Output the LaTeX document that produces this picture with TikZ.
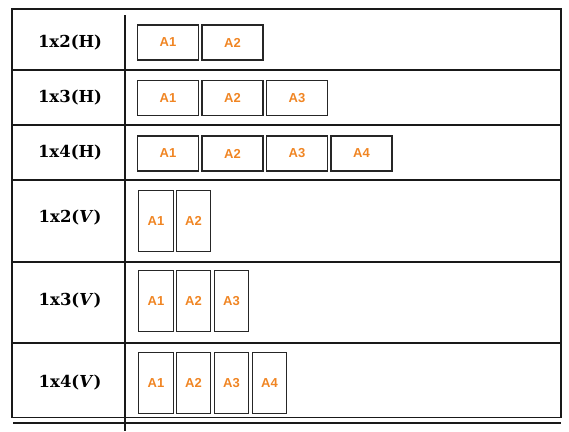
\documentclass[tikz,border=0pt]{standalone}
\usepackage{fontspec}
\setmainfont{DejaVu Serif}
\newfontfamily\cellfont{Liberation Sans}
\definecolor{cellorange}{RGB}{240,133,35}

\begin{document}
\begin{tikzpicture}[
    x=1pt, y=-1pt,
    grid/.style={draw=black!90, line width=1.4pt},
    tag/.style={font=\fontsize{16.5}{18}\selectfont\bfseries, inner sep=0pt},
    hcell/.style={draw=black!85, line width=1.3pt, minimum width=61pt, minimum height=35pt,
        inner sep=0pt, font=\cellfont\fontsize{13}{14}\selectfont\bfseries, text=cellorange},
    vcell/.style={draw=black!85, line width=1.3pt, minimum width=34.5pt, minimum height=60.5pt,
        inner sep=0pt, font=\cellfont\fontsize{13}{14}\selectfont\bfseries, text=cellorange}
]
\useasboundingbox (0,0) rectangle (569,431);

% Table frame
\coordinate (tl) at (12,9);
\coordinate (br) at (561,417.5);
\coordinate (s1) at (12,70);
\coordinate (s2) at (12,125);
\coordinate (s3) at (12,180);
\coordinate (s4) at (12,262);
\coordinate (s5) at (12,343);
\coordinate (e1) at (561,70);
\coordinate (e2) at (561,125);
\coordinate (e3) at (561,180);
\coordinate (e4) at (561,262);
\coordinate (e5) at (561,343);
\coordinate (d1) at (125,15);
\coordinate (d2) at (125,431);
\coordinate (u1) at (13,423);
\coordinate (u2) at (561,423);

\draw[grid] (tl) rectangle (br);
\draw[grid] (s1) -- (e1);
\draw[grid] (s2) -- (e2);
\draw[grid] (s3) -- (e3);
\draw[grid] (s4) -- (e4);
\draw[grid] (s5) -- (e5);
\draw[grid] (d1) -- (d2);
\draw[grid, line width=1.2pt] (u1) -- (u2);

% Row labels
\node[tag] (r1) at (70,43) {1x2(H)};
\node[tag] (r2) at (70,98) {1x3(H)};
\node[tag] (r3) at (70,153) {1x4(H)};
\node[tag] (r4) at (70,218) {1x2(\textit{V})};
\node[tag] (r5) at (70,301) {1x3(\textit{V})};
\node[tag] (r6) at (70,383) {1x4(\textit{V})};

% Horizontal cells
\node[hcell] (h21) at (168,42.5) {A1};
\node[hcell] (h22) at (232.5,42.5) {A2};

\node[hcell] (h31) at (168,98) {A1};
\node[hcell] (h32) at (232.5,98) {A2};
\node[hcell] (h33) at (297,98) {A3};

\node[hcell] (h41) at (168,153.5) {A1};
\node[hcell] (h42) at (232.5,153.5) {A2};
\node[hcell] (h43) at (297,153.5) {A3};
\node[hcell] (h44) at (361.5,153.5) {A4};

% Vertical cells
\node[vcell] (v21) at (156,221) {A1};
\node[vcell] (v22) at (193.5,221) {A2};

\node[vcell] (v31) at (156,301) {A1};
\node[vcell] (v32) at (193.5,301) {A2};
\node[vcell] (v33) at (231.5,301) {A3};

\node[vcell] (v41) at (156,383) {A1};
\node[vcell] (v42) at (193.5,383) {A2};
\node[vcell] (v43) at (231.5,383) {A3};
\node[vcell] (v44) at (269.5,383) {A4};

\end{tikzpicture}
\end{document}
